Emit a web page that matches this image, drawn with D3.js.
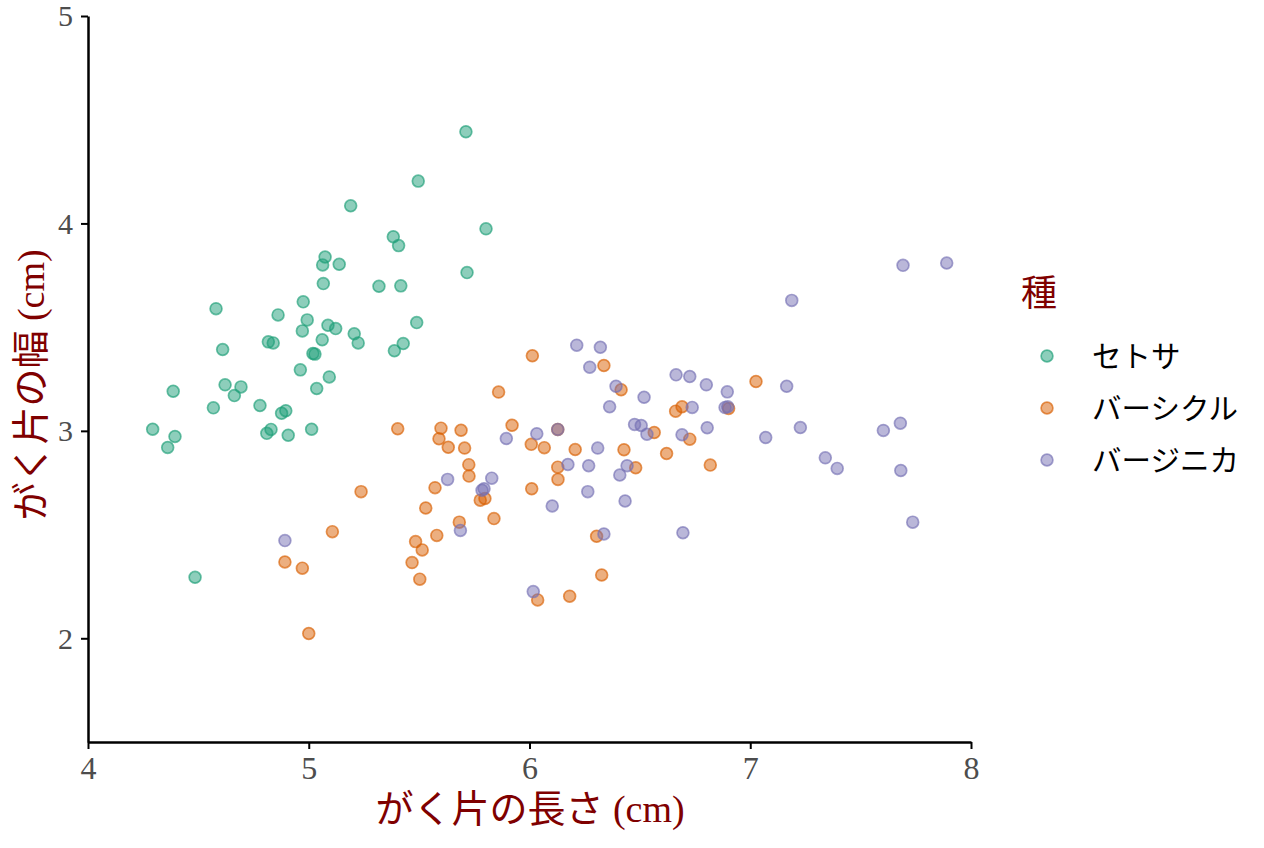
<!DOCTYPE html>
<html>
<head>
<meta charset="utf-8">
<script src="https://cdn.jsdelivr.net/npm/d3@7"></script>
<style>
  body { margin: 0; background: #fff; }
  .tick text { font-family: "Liberation Serif", serif; fill: #4d4d4d; }
  .aText { font-family: "Liberation Serif", "Noto Sans CJK JP", serif; fill: #7f0000; }
  .lText { font-family: "Noto Sans CJK JP", sans-serif; fill: #000; }
</style>
</head>
<body>
<div id="scatter"></div>
<script>
var svgWidth = 1264;
var svgHeight = 848;

// species names and colours (Dark2)
var species = ["セトサ", "バーシクル", "バージニカ"];
var colors = ["#1b9e77", "#d95f02", "#7570b3"];

var xTicks = [4, 5, 6, 7, 8];
var yTicks = [2, 3, 4, 5];

// sepal length / width, jittered as in the picture
var setosaX = [4.293, 4.361, 4.394, 4.386, 4.485, 4.568, 4.580, 4.610, 4.621, 4.663,
  4.693, 4.779, 4.810, 4.829, 4.817, 4.839, 4.861, 4.877, 4.896, 4.907,
  4.962, 4.971, 4.975, 4.993, 5.013, 5.019, 5.028, 5.036, 5.061, 5.066,
  5.063, 5.074, 5.093, 5.087, 5.122, 5.138, 5.190, 5.206, 5.224, 5.318,
  5.383, 5.388, 5.407, 5.417, 5.428, 5.496, 5.489, 5.712, 5.717, 5.803];
var setosaY = [3.008, 2.920, 2.973, 3.191, 2.294, 3.111, 3.589, 3.392, 3.222, 3.170,
  3.212, 3.122, 2.988, 3.007, 3.429, 3.424, 3.559, 3.085, 3.097, 2.979,
  3.294, 3.482, 3.622, 3.535, 3.008, 3.373, 3.370, 3.204, 3.439, 3.710,
  3.800, 3.838, 3.260, 3.509, 3.493, 3.803, 4.085, 3.468, 3.424, 3.697,
  3.936, 3.386, 3.893, 3.699, 3.421, 4.204, 3.522, 4.442, 3.763, 3.974];

var versicolorX = [5.403, 5.599, 5.590, 5.632, 5.690, 5.706, 5.921, 6.008, 5.725, 5.726,
  5.572, 5.237, 5.530, 5.777, 5.798, 5.839, 5.682, 5.580, 5.107, 5.484,
  5.514, 5.468, 4.892, 4.971, 5.503, 6.010, 5.000, 6.037, 6.013, 6.337,
  6.415, 5.860, 7.026, 6.662, 6.691, 6.902, 6.128, 6.565, 6.726, 6.067,
  6.207, 6.428, 6.621, 6.128, 6.481, 6.129, 6.819, 6.304, 6.327, 6.182];
var versicolorY = [3.010, 3.013, 2.962, 2.921, 3.003, 2.917, 3.027, 2.935, 2.837, 2.782,
  2.726, 2.707, 2.628, 2.666, 2.674, 2.577, 2.560, 2.496, 2.514, 2.466,
  2.426, 2.365, 2.368, 2.338, 2.285, 2.721, 2.023, 2.185, 3.362, 3.315,
  3.198, 3.187, 3.238, 3.095, 3.116, 3.108, 3.007, 2.992, 2.960, 2.919,
  2.910, 2.909, 2.891, 2.825, 2.822, 2.766, 2.835, 2.492, 2.305, 2.203];

var virginicaX = [5.895, 6.033, 5.629, 5.829, 5.785, 5.794, 5.687, 4.892, 6.017, 6.214,
  6.321, 6.273, 6.392, 6.519, 6.363, 6.664, 6.726, 6.801, 6.896, 6.737,
  6.886, 6.898, 6.476, 6.506, 6.532, 6.691, 6.805, 6.128, 6.309, 6.174,
  6.268, 6.442, 6.409, 6.264, 6.103, 6.433, 6.337, 6.695, 7.692, 7.890,
  7.188, 7.165, 7.227, 7.070, 7.340, 7.394, 7.603, 7.680, 7.682, 7.736];
var virginicaY = [2.963, 2.986, 2.766, 2.772, 2.714, 2.721, 2.520, 2.471, 2.225, 3.413,
  3.403, 3.307, 3.215, 3.162, 3.116, 3.270, 3.262, 3.222, 3.188, 3.113,
  3.113, 3.116, 3.031, 3.026, 2.984, 2.981, 3.015, 3.007, 2.917, 2.838,
  2.832, 2.832, 2.787, 2.707, 2.638, 2.662, 2.503, 2.509, 3.798, 3.809,
  3.629, 3.215, 3.016, 2.968, 2.870, 2.819, 3.002, 3.037, 2.809, 2.560];

// build one table for the points, in species order
var xs = [setosaX, versicolorX, virginicaX];
var ys = [setosaY, versicolorY, virginicaY];
var irisData = [];
xs.forEach(function(arr, s) {
  arr.forEach(function(v, i) {
    irisData.push({ x: v, y: ys[s][i], s: s });
  });
});

var svg = d3.select("#scatter")
  .append("svg")
  .attr("width", svgWidth)
  .attr("height", svgHeight)
  .style("background", "#fff");

var xScale = d3.scaleLinear().domain([4, 8]).range([88, 971]);
var yScale = d3.scaleLinear().domain([1.5, 5]).range([742, 16]);

// axes
var bottomAxis = d3.axisBottom(xScale).tickValues(xTicks).tickFormat(d3.format("d"))
  .tickSize(7).tickSizeOuter(0).tickPadding(7);
var leftAxis = d3.axisLeft(yScale).tickValues(yTicks).tickFormat(d3.format("d"))
  .tickSize(7).tickSizeOuter(0).tickPadding(8);

var gx = svg.append("g")
  .attr("transform", "translate(0, 742)")
  .call(bottomAxis);
var gy = svg.append("g")
  .attr("transform", "translate(88, 0)")
  .call(leftAxis);

[gx, gy].forEach(function(g) {
  g.select(".domain").attr("stroke", "#000").attr("stroke-width", 2.5);
  g.selectAll(".tick line").attr("stroke", "#000").attr("stroke-width", 2);
});
gx.selectAll(".tick text").style("font-size", "32px");
gy.selectAll(".tick text").style("font-size", "30px").attr("dy", "0.33em");

// points
svg.append("g")
  .selectAll("circle")
  .data(irisData)
  .enter()
  .append("circle")
  .attr("cx", d => xScale(d.x))
  .attr("cy", d => yScale(d.y))
  .attr("r", 5.9)
  .attr("fill", d => colors[d.s])
  .attr("fill-opacity", 0.5)
  .attr("stroke", d => colors[d.s])
  .attr("stroke-opacity", 0.65)
  .attr("stroke-width", 1.7);

// axis titles
svg.append("text")
  .attr("class", "aText")
  .attr("x", 530)
  .attr("y", 822)
  .attr("text-anchor", "middle")
  .style("font-size", "38px")
  .text("がく片の長さ (cm)");

svg.append("text")
  .attr("class", "aText")
  .attr("transform", "translate(44, 385) rotate(-90)")
  .attr("text-anchor", "middle")
  .style("font-size", "38px")
  .text("がく片の幅 (cm)");

// legend
svg.append("text")
  .attr("class", "aText")
  .attr("x", 1021)
  .attr("y", 306)
  .style("font-size", "36px")
  .style("font-family", "Noto Sans CJK JP")
  .text("種");

var legend = svg.append("g")
  .selectAll("g")
  .data(species)
  .enter()
  .append("g")
  .attr("transform", (d, i) => `translate(0, ${356 + i * 52})`);

legend.append("circle")
  .attr("cx", 1047)
  .attr("cy", 0)
  .attr("r", 5.9)
  .attr("fill", (d, i) => colors[i])
  .attr("fill-opacity", 0.5)
  .attr("stroke", (d, i) => colors[i])
  .attr("stroke-opacity", 0.65)
  .attr("stroke-width", 1.7);

legend.append("text")
  .attr("class", "lText")
  .attr("x", 1092)
  .attr("y", 0)
  .attr("dy", "0.36em")
  .style("font-size", "29.5px")
  .text(d => d);
</script>
</body>
</html>
